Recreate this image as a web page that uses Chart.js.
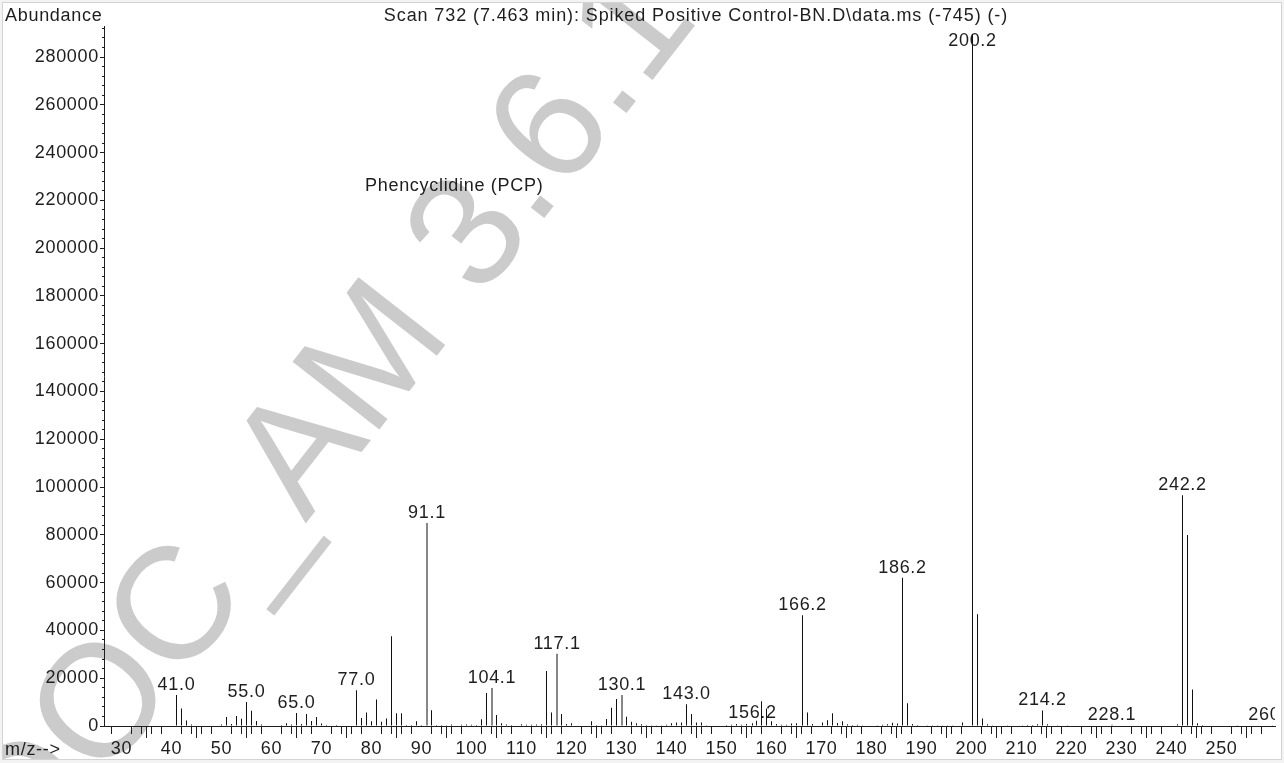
<!DOCTYPE html>
<html>
<head>
<meta charset="utf-8">
<script src="https://cdn.jsdelivr.net/npm/chart.js@4.4.1/dist/chart.umd.min.js"></script>
<style>
  html, body { margin: 0; padding: 0; background: #ffffff; }
  #wrap { position: relative; width: 1284px; height: 763px; }
</style>
</head>
<body>
<div id="wrap"><canvas id="spectrum" width="1284" height="763"></canvas></div>
<script>
// Mass spectrum, scan 732 — m/z positions and abundances (counts)
const mzValues = [
  41.0, 42, 43, 44, 50, 51, 52, 53, 54, 55.0,
  56, 57, 58, 62, 63, 64, 65.0, 66, 67, 68,
  69, 70, 71, 73, 77.0, 78, 79, 80, 81, 82,
  83, 84, 85, 86, 87, 88, 89, 90, 91.1, 92,
  93, 94, 95, 96, 98, 99, 100, 101, 102, 103,
  104.1, 105, 106, 107, 108, 110, 111, 112, 113, 114,
  115, 116, 117.1, 118, 119, 120, 124, 125, 126, 127,
  128, 129, 130.1, 131, 132, 133, 134, 135, 136, 137,
  138, 139, 140, 141, 142, 143.0, 144, 145, 146, 147,
  151, 152, 153, 154, 155, 156.2, 157, 158, 159, 160,
  161, 162, 163, 164, 165, 166.2, 167.2, 168.2, 170.2, 171.2,
  172.2, 173.2, 174.2, 175.2, 176.2, 177.2, 178.2, 181.2, 182.2, 183.2,
  184.2, 185.2, 186.2, 187.2, 188.2, 189.2, 191.2, 192.2, 193.2, 194.2,
  195.2, 196.2, 198.2, 200.2, 201.2, 202.2, 203.2, 204.2, 207.2, 210.2,
  211.2, 212.2, 213.2, 214.2, 215.2, 217.2, 219.2, 228.1, 241.2, 242.2,
  243.2, 244.2, 245.2, 246.2, 253.2, 260.2
];
const abundances = [
  13000, 7300, 2300, 600, 600, 3800, 800, 4200, 3000, 10000,
  6400, 2100, 600, 400, 1200, 600, 5400, 800, 5000, 2100,
  3800, 1000, 400, 400, 15000, 3400, 5700, 2000, 11100, 1800,
  3100, 37600, 5300, 5300, 400, 400, 2000, 400, 85000, 6600,
  400, 400, 300, 600, 500, 600, 500, 400, 2800, 13800,
  15900, 4600, 1100, 600, 400, 700, 500, 500, 600, 700,
  23000, 5700, 30200, 5000, 800, 1100, 2000, 400, 300, 2900,
  7600, 11300, 13000, 3900, 1800, 1100, 700, 400, 300, 300,
  300, 500, 1100, 1500, 1500, 9100, 5000, 1500, 1500, 300,
  400, 500, 800, 500, 800, 1100, 2200, 10400, 7300, 2000,
  800, 500, 500, 1000, 1100, 46400, 5700, 800, 1500, 2400,
  5300, 1300, 2000, 700, 400, 500, 300, 300, 500, 700,
  1400, 1000, 62100, 9500, 800, 400, 300, 300, 300, 300,
  300, 300, 1500, 289500, 46800, 3100, 700, 300, 300, 300,
  400, 400, 700, 6500, 700, 300, 300, 500, 700, 96600,
  79900, 15300, 1100, 400, 300, 300
];
// Peaks annotated with their m/z
const labelledMz = [41.0, 55.0, 65.0, 77.0, 91.1, 104.1, 117.1, 130.1, 143.0, 156.2,
                    166.2, 186.2, 200.2, 214.2, 228.1, 242.2, 260.2];
// Axis ticks
const xTickValues = [30, 40, 50, 60, 70, 80, 90, 100, 110, 120, 130, 140, 150, 160,
                     170, 180, 190, 200, 210, 220, 230, 240, 250, 260];
const yTickValues = [0, 20000, 40000, 60000, 80000, 100000, 120000, 140000, 160000,
                     180000, 200000, 220000, 240000, 260000, 280000];
const titleText = 'Scan 732 (7.463 min): Spiked Positive Control-BN.D\\data.ms (-745) (-)';
const compoundText = 'Phencyclidine (PCP)';
const yAxisTitle = 'Abundance';
const xAxisTitle = 'm/z-->';
const watermarkText = 'DOC_AM 3.6.1';

const FONT = '"Liberation Sans", Arial, Helvetica, sans-serif';
const INK = '#1e1e1e';

const frameAndWatermark = {
  id: 'frameAndWatermark',
  beforeDraw(chart) {
    const ctx = chart.ctx;
    ctx.save();
    ctx.fillStyle = '#f3f3f3';
    ctx.fillRect(0, 0, chart.width, chart.height);
    ctx.fillStyle = '#ffffff';
    ctx.fillRect(3, 3, 1278, 756);
    ctx.strokeStyle = '#d4d4d4';
    ctx.lineWidth = 1;
    ctx.strokeRect(2.5, 2.5, 1279, 757);
    // diagonal watermark
    ctx.beginPath();
    ctx.rect(3, 3, 1278, 756);
    ctx.clip();
    ctx.translate(-3, 847);
    ctx.rotate(-52 * Math.PI / 180);
    ctx.font = '160px ' + FONT;
    ctx.fillStyle = '#cbcbcb';
    ctx.textBaseline = 'middle';
    ctx.textAlign = 'left';
    ctx.fillText(watermarkText, 0, 0);
    ctx.restore();
    ctx.letterSpacing = '0.7px';
  }
};

const annotations = {
  id: 'annotations',
  beforeDatasetsDraw(chart) {
    const { ctx, chartArea, scales } = chart;
    ctx.save();
    ctx.beginPath();
    ctx.rect(chartArea.left, 0, chartArea.right - chartArea.left, chartArea.bottom);
    ctx.clip();
    ctx.font = '18px ' + FONT;
    ctx.fillStyle = INK;
    ctx.textAlign = 'center';
    ctx.textBaseline = 'alphabetic';
    labelledMz.forEach(m => {
      const i = mzValues.indexOf(m);
      if (i < 0) return;
      const x = scales.x.getPixelForValue(m);
      const top = scales.y.getPixelForValue(abundances[i]);
      const y = Math.max(top - 5, chartArea.top + 20);
      ctx.fillText(m.toFixed(1), x, y);
    });
    ctx.restore();
  },
  afterDraw(chart) {
    const { ctx, chartArea, scales } = chart;
    ctx.save();
    ctx.strokeStyle = INK;
    ctx.lineWidth = 1;
    ctx.beginPath();
    // minor ticks on m/z axis every 2 units
    for (let v = 28; v <= 260; v += 2) {
      if (v % 10 === 0) continue;
      const x = Math.round(scales.x.getPixelForValue(v) - 0.5) + 0.5;
      ctx.moveTo(x, chartArea.bottom);
      ctx.lineTo(x, chartArea.bottom + 8);
    }
    // minor ticks on abundance axis every 4000
    for (let v = 4000; v <= 292000; v += 4000) {
      if (v % 20000 === 0) continue;
      const y = Math.round(scales.y.getPixelForValue(v) - 0.5) + 0.5;
      ctx.moveTo(chartArea.left - 2, y);
      ctx.lineTo(chartArea.left, y);
    }
    ctx.stroke();

    ctx.font = '18px ' + FONT;
    ctx.fillStyle = INK;
    ctx.textBaseline = 'alphabetic';
    ctx.textAlign = 'left';
    ctx.fillText(yAxisTitle, 5, 21);
    ctx.fillText(xAxisTitle, 5, 755);
    ctx.fillText(compoundText, 365, 191);
    ctx.textAlign = 'center';
    ctx.letterSpacing = '0.9px';
    ctx.fillText(titleText, 696, 21);
    ctx.restore();
  }
};

new Chart(document.getElementById('spectrum'), {
  type: 'bar',
  data: {
    datasets: [{
      data: mzValues.map((m, i) => ({ x: m, y: abundances[i] })),
      backgroundColor: '#111111',
      borderWidth: 0,
      barThickness: 1,
      inflateAmount: 0,
      grouped: false
    }]
  },
  options: {
    responsive: false,
    animation: false,
    events: [],
    layout: { padding: { left: 0, right: 9, top: 26, bottom: 0 } },
    plugins: { legend: { display: false }, tooltip: { enabled: false }, title: { display: false } },
    scales: {
      x: {
        type: 'linear',
        min: 26.5,
        max: 260.7,
        offset: false,
        afterBuildTicks(scale) { scale.ticks = xTickValues.map(v => ({ value: v })); },
        afterFit(scale) { scale.height = 37; },
        grid: { display: true, drawOnChartArea: false, drawTicks: true, tickLength: 12, color: INK, lineWidth: 1 },
        border: { display: true, color: INK, width: 1 },
        ticks: {
          autoSkip: false, maxRotation: 0, minRotation: 0, padding: 0,
          color: INK, font: { size: 18, family: FONT },
          callback: v => (v <= 250 ? String(v) : '')
        }
      },
      y: {
        type: 'linear',
        min: 0,
        max: 293000,
        afterBuildTicks(scale) { scale.ticks = yTickValues.map(v => ({ value: v })); },
        afterFit(scale) { scale.width = 104; },
        grid: { display: true, drawOnChartArea: false, drawTicks: true, tickLength: 4, color: INK, lineWidth: 1 },
        border: { display: true, color: INK, width: 1 },
        ticks: {
          autoSkip: false, padding: 1, color: INK, font: { size: 18, family: FONT },
          callback: v => String(v)
        }
      }
    }
  },
  plugins: [frameAndWatermark, annotations]
});
</script>
</body>
</html>
